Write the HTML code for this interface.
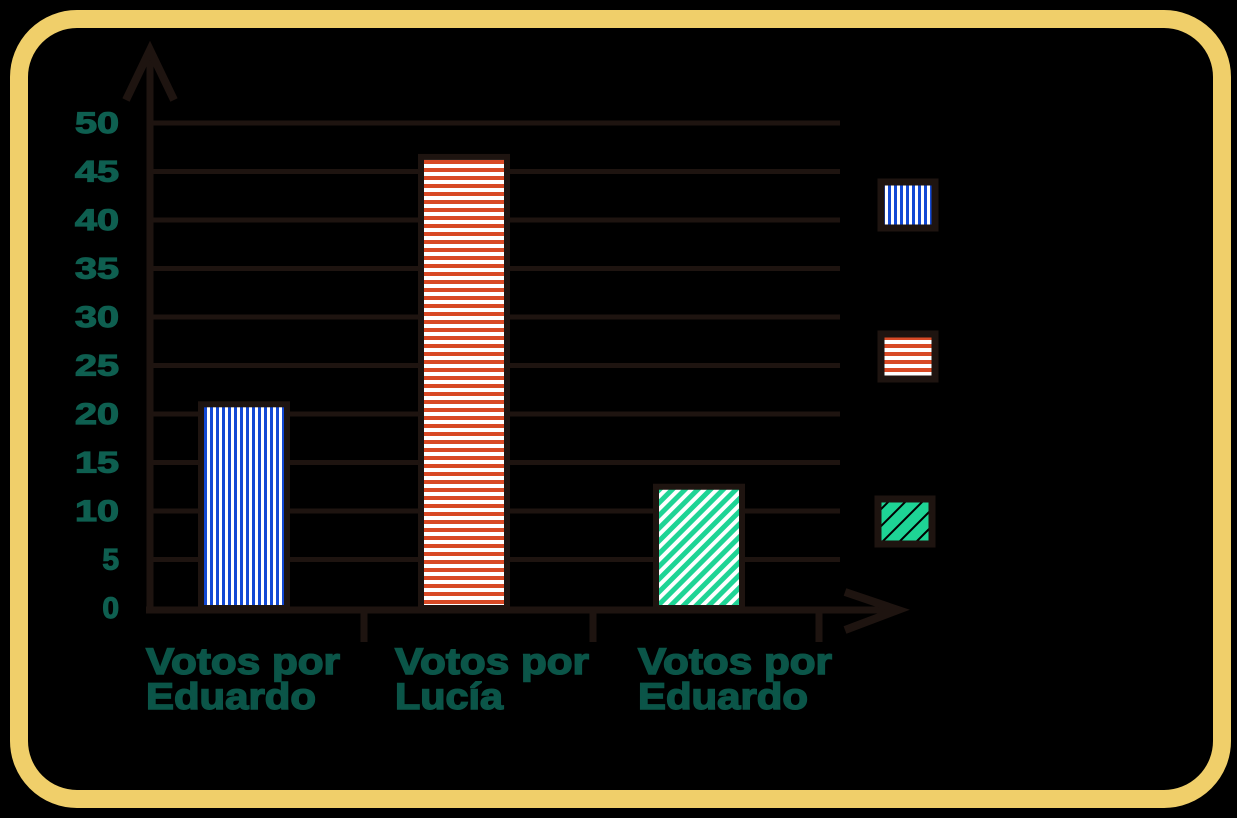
<!DOCTYPE html>
<html><head><meta charset="utf-8"><style>
html,body{margin:0;padding:0;background:#000;}
svg{display:block;font-family:"Liberation Sans",sans-serif;}
</style></head><body>
<svg width="1237" height="818" viewBox="0 0 1237 818">
<defs>
<pattern id="pv" width="6" height="10" patternUnits="userSpaceOnUse"><rect width="6" height="10" fill="#fff"/><rect width="3" height="10" fill="#1248d4"/></pattern>
<pattern id="ph" width="10" height="8" patternUnits="userSpaceOnUse"><rect width="10" height="8" fill="#fff"/><rect width="10" height="4" fill="#d84a26"/></pattern>
<pattern id="pd" width="9" height="9" patternUnits="userSpaceOnUse" patternTransform="rotate(45)"><rect width="9" height="9" fill="#fff"/><rect width="5" height="9" fill="#1ed495"/></pattern>
<pattern id="pdl" width="12" height="12" patternUnits="userSpaceOnUse" patternTransform="rotate(45)"><rect width="12" height="12" fill="#000"/><rect width="10" height="12" fill="#1ed495"/></pattern>
</defs>
<rect x="19" y="19" width="1203" height="780" rx="58" fill="#000" stroke="#f0cf6a" stroke-width="18"/>
<g id="grid"></g>
<g id="bars"></g>
<g id="axes" stroke="#1e1410" stroke-width="7" fill="none">
<line x1="150" y1="50" x2="150" y2="612"/>
<polyline points="126,100 150,50 174,100" stroke-width="8"/>
<line x1="146" y1="610" x2="900" y2="610"/>
<polyline points="845,592 898,610 845,630" stroke-width="8"/>
<line x1="364" y1="610" x2="364" y2="642"/>
<line x1="593" y1="610" x2="593" y2="642"/>
<line x1="819" y1="610" x2="819" y2="642"/>
</g>
<g id="ylabels" fill="#0e5f50" stroke="#0e5f50" stroke-width="1.2" font-weight="bold" font-size="30" text-anchor="end"></g>
<g fill="#0b5548" stroke="#0b5548" stroke-width="1.5" font-weight="bold" font-size="37">
<text><tspan x="146" y="674" textLength="194" lengthAdjust="spacingAndGlyphs">Votos por</tspan><tspan x="146" y="709" textLength="170" lengthAdjust="spacingAndGlyphs">Eduardo</tspan></text>
<text><tspan x="395" y="674" textLength="194" lengthAdjust="spacingAndGlyphs">Votos por</tspan><tspan x="395" y="709" textLength="108" lengthAdjust="spacingAndGlyphs">Lucía</tspan></text>
<text><tspan x="638" y="674" textLength="194" lengthAdjust="spacingAndGlyphs">Votos por</tspan><tspan x="638" y="709" textLength="170" lengthAdjust="spacingAndGlyphs">Eduardo</tspan></text>
</g>
<g stroke="#1e1410" stroke-width="7">
<rect x="881" y="182" width="54" height="46" fill="url(#pv)"/>
<rect x="881" y="334" width="54" height="45" fill="url(#ph)"/>
<rect x="878" y="499" width="54" height="45" fill="url(#pdl)"/>
</g>
<script>
const categories=["Votos por Eduardo","Votos por Lucía","Votos por Eduardo"];
const values=[21,46.5,12.5];
const ticks=[0,5,10,15,20,25,30,35,40,45,50];
const fills=["url(#pv)","url(#ph)","url(#pd)"];
const y=v=>608-v*9.7;
const xCenters=[244,464,699];
const NS="http://www.w3.org/2000/svg";
const grid=document.getElementById('grid');
ticks.forEach(t=>{
 if(t===0)return;
 const l=document.createElementNS(NS,'line');
 l.setAttribute('x1',150);l.setAttribute('x2',840);
 l.setAttribute('y1',y(t));l.setAttribute('y2',y(t));
 l.setAttribute('stroke','#1e1410');l.setAttribute('stroke-width',5);
 
 
 grid.appendChild(l);
});
const yl=document.getElementById('ylabels');
ticks.forEach(t=>{
 const tx=document.createElementNS(NS,'text');
 tx.setAttribute('x',119);tx.setAttribute('y',y(t)+10);
 if(t>=10){tx.setAttribute('textLength',44);tx.setAttribute('lengthAdjust','spacingAndGlyphs');}
 tx.textContent=t;
 
 
 yl.appendChild(tx);
});
const bars=document.getElementById('bars');
values.forEach((v,i)=>{
 const r=document.createElementNS(NS,'rect');
 const w=86;
 r.setAttribute('x',xCenters[i]-w/2);r.setAttribute('width',w);
 r.setAttribute('y',y(v));r.setAttribute('height',y(0)-y(v));
 r.setAttribute('fill',fills[i]);r.setAttribute('stroke','#1e1410');r.setAttribute('stroke-width',6);
 
 
 bars.appendChild(r);
});
</script>
</svg>
</body></html>
